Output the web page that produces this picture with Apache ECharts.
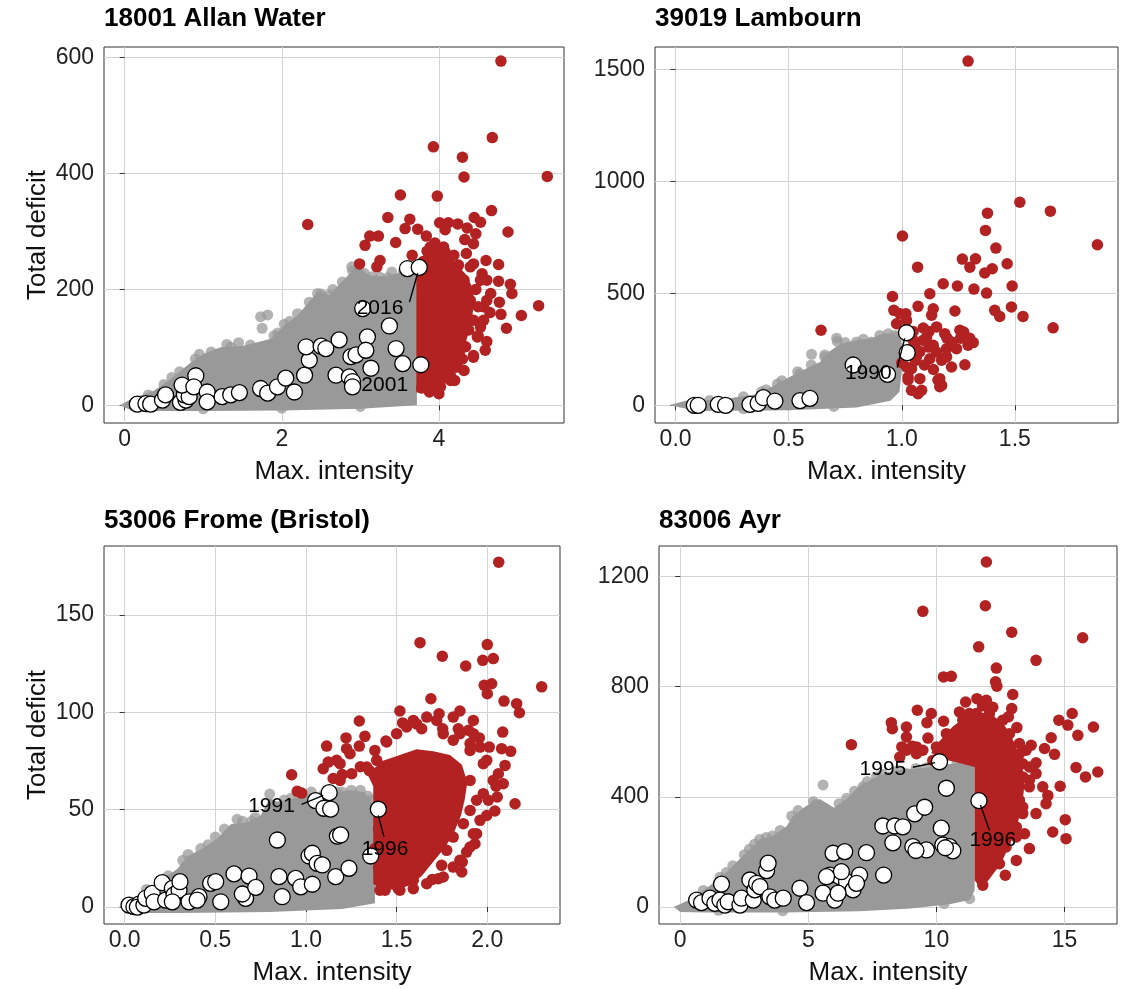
<!DOCTYPE html>
<html><head><meta charset="utf-8">
<script src="https://cdn.jsdelivr.net/npm/echarts@6/dist/echarts.min.js"></script>
<style>html,body{margin:0;padding:0;background:#fff}#c{width:1129px;height:989px}</style>
</head><body><div id="c"></div>
<script>
// ---------------- DATA ----------------
const panelTitles = ['18001 Allan Water', '39019 Lambourn', '53006 Frome (Bristol)', '83006 Ayr'];
const xTickValues = [[0, 2, 4], [0, 0.5, 1, 1.5], [0, 0.5, 1, 1.5, 2], [0, 5, 10, 15]];
const yTickValues = [[0, 200, 400, 600], [0, 500, 1000, 1500], [0, 50, 100, 150], [0, 400, 800, 1200]];
const xTickDecimals = [0, 1, 1, 0];
const xRanges = [[-0.264, 5.593], [-0.091, 1.956], [-0.114, 2.401], [-0.83, 17.05]];
const yRanges = [[-30.5, 618.3], [-79, 1600], [-8.7, 185.3], [-61.7, 1310]];
const yTitleShown = [true, false, true, false];

// dense grey cloud outline (all events), per panel
const p1GreyCloud = [[-0.06,0],[0.1,12],[0.37,25],[0.59,46],[0.84,74],[1.01,89],[1.22,100],[1.52,103],[1.86,115],[2.03,138],[2.2,155],[2.45,195],[2.6,190],[2.8,218],[2.95,240],[3.1,225],[3.3,222],[3.47,228],[3.64,240],[3.72,246],[3.72,0],[3.0,-6],[2.0,-9],[1.0,-10],[0.1,-10]];
const p2GreyCloud = [[-0.03,0],[0.05,22],[0.2,26],[0.35,48],[0.43,85],[0.51,130],[0.57,160],[0.64,195],[0.68,240],[0.73,275],[0.8,290],[0.87,300],[0.9,315],[0.94,322],[0.99,308],[1.0,280],[1.0,150],[0.99,60],[0.95,20],[0.8,-10],[0.5,-22],[0.1,-25]];
const p3GreyCloud = [[-0.03,0],[0.07,5.5],[0.18,12.5],[0.29,19.5],[0.345,26],[0.42,29.5],[0.51,35],[0.585,42.5],[0.68,43.5],[0.75,47],[0.8,56],[0.84,54],[0.92,55.5],[1.03,58.5],[1.17,59],[1.25,60],[1.32,59],[1.36,55],[1.385,46],[1.38,2],[1.2,-1],[0.8,-2.5],[0.3,-3],[0.05,-3]];
const p4GreyCloud = [[-0.25,0],[0.5,33],[1.3,88],[1.8,124],[2.3,172],[2.7,208],[3.1,245],[3.6,258],[4.15,293],[4.4,330],[4.9,366],[5.45,392],[6.0,360],[6.5,392],[7.0,440],[7.6,470],[8.1,490],[8.8,500],[9.6,505],[10.4,517],[11.0,525],[11.49,530],[11.49,60],[11.3,25],[10.5,10],[9.0,-5],[7.0,-15],[4.0,-20],[1.0,-20],[0,-18]];

// separate grey points at the cloud fringe
const p1GreyPts = [[1.73,153],[1.82,156],[1.75,133],[2.03,140],[2.455,193],[2.52,187],[2.77,213],[2.86,211],[2.89,239],[2.79,204],[3.25,221],[3.47,216],[3.64,239],[1.3,105],[1.45,108],[0.95,88],[0.6,48],[2.2,158],[3.05,228],[3.4,230],[1.9,120],[2.6,190],[3.0,226],
  [0.3,18],[0.5,36],[0.7,58],[0.9,80],[1.1,92],[1.35,100],[1.6,104],[1.95,125],[2.1,145],[2.35,178],[2.5,192],[2.65,200],[2.9,232],[3.15,222],[3.35,220],[3.55,232],[1.0,-6],[2.0,-5],[3.0,-2]];
const p2GreyPts = [[0.601,228],[0.712,300],[0.715,285],[0.80,283],[0.866,283],[0.903,312],[0.94,320],[0.55,140],[0.66,215],[0.45,95],[0.38,60],[0.98,305],
  [0.15,22],[0.3,38],[0.4,70],[0.47,110],[0.54,150],[0.6,180],[0.66,225],[0.75,280],[0.83,295],[0.97,312],[0.3,-15],[0.7,-5]];
const p3GreyPts = [[0.80,58],[0.7,44],[0.62,45],[0.5,36],[0.42,30],[0.92,56],[1.03,59],[1.17,59],[1.25,60],[1.30,60],[1.36,55],[0.35,27],[1.1,58],
  [0.12,9],[0.24,16],[0.32,24],[0.46,32],[0.55,40],[0.65,44],[0.72,46],[0.88,55],[0.98,57],[1.2,59],[1.34,57]];
const p4GreyPts = [[5.575,443],[5.3,372],[4.35,330],[7.13,436],[7.66,472],[8.83,484],[10.12,502],[11.29,520],[2.7,210],[3.1,245],[3.6,258],[6.5,395],[9.6,505],[1.8,125],[11.3,30],[10.3,12],
  [0.9,60],[1.55,108],[2.05,150],[2.5,190],[2.9,228],[3.35,252],[3.9,278],[4.6,350],[5.2,382],[6.2,375],[6.8,420],[7.3,455],[7.9,482],[8.5,495],[9.2,503],[10.0,510],[10.8,520],[1.5,-12],[4.0,-14]];

// dense red core outline (extreme events)
const p1RedCore = [[3.713,245],[3.85,262],[4.02,264],[4.15,255],[4.25,240],[4.35,225],[4.42,205],[4.45,181],[4.43,158],[4.40,135],[4.35,112],[4.33,89],[4.25,66],[4.17,45],[4.05,35],[3.95,27],[3.85,22],[3.713,22]];
const p2RedCore = [];
const p3RedCore = [[1.371,12],[1.371,62],[1.34,68],[1.42,75],[1.518,78],[1.61,81],[1.702,80],[1.794,78],[1.86,73],[1.89,64],[1.875,55],[1.855,47],[1.82,39],[1.77,31],[1.70,23],[1.64,16],[1.57,11],[1.50,9],[1.41,9]];
const p4RedCore = [[11.49,508],[11.49,97],[11.75,65],[12.1,105],[12.5,155],[12.8,212],[13.1,278],[13.3,351],[13.4,411],[13.45,460],[13.35,508],[13.2,544],[13.05,593],[12.85,635],[12.55,670],[12.2,695],[11.8,705],[11.4,695],[11.0,680],[10.64,655],[10.3,620],[10.0,590],[9.8,560],[10.1,540],[10.78,525]];

// red points (extreme events)
const p1Red = [[4.79,594],[4.68,462],[3.93,446],[4.30,428],[4.32,394],[5.38,395],[3.51,363],[3.98,361],[4.67,336],[3.35,324],[3.63,321],[3.57,305],[3.73,304],[3.84,292],[4.88,299],[3.12,292],[3.23,292],[3.06,276],[3.45,281],[4.01,315],[4.12,315],[4.24,313],[4.36,306],[4.45,324],[4.53,316],[4.08,303],[4.33,286],[4.44,279],[4.47,296],[3.66,259],[3.85,266],[2.99,244],[3.25,250],[3.21,239],[4.76,243],[4.93,193],[5.27,172],[5.05,155],[4.79,157],[4.86,133],[4.77,178],[4.76,214],[4.61,110],[4.59,95],[4.44,86],[4.20,43],[3.88,23],[4.91,209],[3.98,264],[4.08,264],[4.25,242],[4.44,244],[4.55,227],[4.61,216],[4.66,193],[4.57,170],[4.44,147],[4.53,135],[4.34,101],[4.23,66],[4.06,55],[3.89,43],[4.40,181],[4.32,216],[4.10,216],[3.98,227],[2.33,312],[3.80,248],[3.9,252],[4.6,250],[4.65,160],[4.5,120],[4.3,80],[4.15,50],[3.95,35],[4.0,20],
  [4.40,239],[4.53,216],[4.61,181],[4.57,147],[4.49,118],[4.44,83],[4.32,60],[4.15,43],[4.02,32],[3.89,273],[4.06,273],[4.19,259],[4.35,262],[4.47,200],[4.38,130],[4.5,170],[3.78,30],[3.95,280]];
const p2Red = [[1.293,1537],[1.522,907],[1.657,867],[1.379,858],[1.370,781],[1.003,756],[1.865,717],[1.416,702],[1.268,653],[1.326,654],[1.301,617],[1.466,632],[1.070,617],[1.40,610],[1.367,591],[1.183,543],[1.246,533],[1.319,519],[1.488,533],[1.375,501],[1.124,498],[0.959,486],[1.072,442],[1.139,431],[1.235,421],[1.411,424],[1.485,439],[1.433,397],[1.536,397],[1.669,346],[0.965,424],[1.018,409],[1.132,402],[0.643,335],[0.977,364],[1.095,345],[1.154,350],[1.19,320],[1.257,335],[1.274,327],[1.316,280],[1.293,268],[1.242,253],[1.198,253],[1.139,268],[1.095,290],[1.058,260],[1.065,216],[1.124,208],[1.176,201],[1.22,171],[1.279,181],[1.043,163],[1.028,126],[1.08,119],[1.168,119],[1.176,89],[1.043,67],[1.088,67],[1.072,52],[1.018,223],[1.05,290],[1.11,305],[1.154,238],[1.198,216],[1.021,171],[1.22,283],[1.021,379],[0.992,409],[1.028,113],[1.16,113],[1.168,83],[1.04,250],[1.08,240],[1.12,260],[1.06,200],[1.1,180],[1.14,160],[1.0,190],[1.05,330],[1.12,330],[1.2,300],[1.26,300],[1.3,300]];
const p3Red = [[2.063,177],[1.629,135.7],[2.0,134.7],[1.752,128.7],[1.881,123.7],[1.975,126.6],[2.033,127.5],[2.30,113],[1.983,113.8],[2.024,114.6],[2.0,109.5],[2.092,105.7],[2.162,104.4],[2.177,99.7],[1.689,106.9],[1.518,100.6],[1.533,94.5],[1.294,95.5],[1.849,100.6],[1.812,97.5],[1.734,99.2],[1.61,94],[1.754,91.5],[1.84,91.5],[1.897,90.7],[2.085,89.8],[1.956,86.8],[2.011,82.1],[2.079,81.3],[2.129,79.9],[2.098,72.7],[2.061,68.4],[2.088,63.3],[2.048,62],[2.055,56.5],[2.153,53],[2.042,49.3],[1.997,47],[1.941,37.6],[1.932,32.5],[1.886,28.2],[1.862,23.1],[1.859,18],[1.748,21.4],[1.73,14.5],[1.697,14.2],[1.592,9.4],[1.509,9.4],[1.436,8.6],[1.445,13.7],[1.114,82.6],[1.221,86.8],[1.325,87.6],[1.441,85.2],[1.224,81.3],[1.294,82.6],[1.38,80.4],[1.095,71],[1.123,74.4],[1.169,75.3],[0.921,67.9],[0.952,59.4],[0.976,58.5],[1.188,65],[1.252,68.4],[1.923,95.8],[1.905,80.4],[1.978,73.6],[1.905,65],[1.941,54.8],[1.978,58.2],[1.905,49.6],[1.868,42.8],[1.812,35.9],[1.776,29.1],[1.666,24],[1.35,70],[1.30,72],[1.20,68],[1.15,66],[1.4,20],[1.38,30],[1.40,40],[1.45,60],
  [1.445,84.7],[1.50,89],[1.555,92.4],[1.592,95.8],[1.638,91.5],[1.666,97.5],[1.721,95.8],[1.757,89],[1.812,85.6],[1.849,89],[1.905,83.9],[1.923,89],[1.96,82.1],[1.997,75.3],[2.033,65],[2.006,54.8],[1.96,44.5],[1.923,37.6],[1.905,30.8],[1.849,24],[1.812,20.5],[1.757,15.4],[1.666,12],[1.592,13.7],[1.518,8.6],[1.482,13.7],[1.408,8.6],[1.188,73.6],[1.243,78.7],[1.335,71.9],[1.39,75.3]];
const p4Red = [[11.95,1252],[11.91,1093],[9.47,1073],[12.94,997],[15.71,977],[11.65,944],[13.89,895],[12.34,867],[10.28,835],[10.58,837],[12.31,817],[12.36,801],[12.98,771],[11.58,756],[11.95,750],[11.14,744],[12.94,720],[15.3,702],[9.255,714],[9.80,702],[10.90,708],[11.29,702],[12.81,690],[14.78,678],[15.13,660],[16.13,653],[8.24,669],[9.63,669],[10.28,674],[13.14,651],[12.40,639],[8.28,647],[8.83,653],[14.48,614],[15.52,623],[8.83,617],[9.67,613],[13.70,587],[14.22,575],[14.61,554],[6.68,589],[8.65,581],[9.06,583],[15.45,506],[15.82,472],[16.30,490],[14.83,438],[13.89,523],[14.35,405],[15.03,317],[14.54,272],[15.06,248],[13.63,212],[13.12,169],[12.69,115],[11.81,79],[12.05,230],[13.44,266],[13.89,339],[14.28,375],[14.15,436],[13.89,484],[13.50,569],[13.24,593],[12.85,629],[12.07,665],[11.03,678],[10.39,629],[10.0,581],[9.47,569],[9.22,556],[11.56,702],[12.07,556],[12.59,532],[13.37,520],[13.63,460],[13.24,387],[13.37,339],[13.12,290],[12.72,218],[12.46,157],
  [13.12,254],[13.37,363],[13.63,436],[13.37,472],[13.63,508],[13.24,556],[12.72,605],[12.07,629],[11.56,653],[11.03,629],[10.51,593],[10.12,556],[9.22,581],[8.83,569],[8.57,544],[9.86,532],[10.77,581],[11.29,569],[12.33,581],[12.59,678],[12.07,702],[11.8,730],[12.2,725]];

// white circles (highlighted events)
const p1Events = [[0.16,2],[0.27,3],[0.33,2],[0.48,9],[0.52,18],[0.71,5],[0.78,9],[0.76,18],[0.82,15],[0.73,35],[0.905,51],[0.88,32],[1.05,23],[1.05,6],[1.24,15],[1.35,18],[1.46,22],[1.73,29],[1.82,21],[1.945,32],[2.05,47],[2.16,23],[2.29,52],[2.35,78],[2.31,101],[2.50,102],[2.56,98],[2.73,113],[2.69,52],[2.88,84],[2.945,87],[2.86,49],[2.90,41],[2.90,32],[3.09,118],[3.07,95],[3.135,64],[3.37,137],[3.455,98],[3.54,72],[3.77,70],[3.60,236],[3.75,238],[3.03,167]];
const p2Events = [[0.083,0],[0.10,0],[0.189,4],[0.221,0],[0.329,4],[0.365,9],[0.388,34],[0.439,19],[0.55,21],[0.594,31],[0.785,180],[0.937,138],[1.024,235],[1.021,324]];
const p3Events = [[0.024,1],[0.051,0.2],[0.079,1.5],[0.07,0],[0.106,1],[0.116,4.5],[0.152,7],[0.162,2.7],[0.207,12.5],[0.226,3.6],[0.263,9.6],[0.272,6.2],[0.30,8.7],[0.263,2.7],[0.305,13],[0.355,2.7],[0.41,5.3],[0.40,3.6],[0.474,12.2],[0.502,13],[0.53,2.7],[0.603,17],[0.686,15.9],[0.667,4.5],[0.649,6.7],[0.723,10.1],[0.842,34.4],[0.851,15.6],[0.869,5.3],[0.943,14.7],[0.971,10.4],[1.035,11.7],[1.017,26.2],[1.035,27.6],[1.062,22.4],[1.09,21.6],[1.164,15.6],[1.237,19.9],[1.173,36.4],[1.191,37],[1.357,26.2],[1.399,50.2],[1.053,54.6],[1.099,50.7],[1.136,50.3],[1.128,58.7]];
const p4Events = [[0.64,25],[0.83,16],[1.16,32],[1.35,13],[1.55,25],[1.61,83],[1.74,7],[1.87,19],[2.33,7],[2.39,32],[2.85,25],[2.72,98],[2.91,62],[2.98,86],[3.11,74],[3.37,132],[3.43,159],[3.50,37],[3.69,25],[4.02,32],[4.67,68],[4.93,16],[5.575,50],[5.84,116],[6.03,25],[5.965,195],[6.42,201],[6.23,110],[6.49,92],[6.745,62],[7.0,116],[7.27,197],[6.29,128],[7.94,116],[8.30,233],[7.91,294],[8.37,294],[8.69,291],[9.15,338],[9.54,362],[9.08,219],[9.61,207],[10.19,286],[10.39,431],[10.25,225],[10.51,219],[10.64,204],[10.12,527],[11.66,386],[5.71,110],[6.88,86],[6.16,50],[9.2,205],[10.35,215]];

// year labels: [text, labelX, labelY, segment from (x1,y1) to (x2,y2)]
const p1Labels = [['2016', 3.25, 167, 3.73, 228, 3.625, 178], ['2001', 3.31, 34]];
const p2Labels = [['1990', 0.852, 143, 1.013, 299, 0.98, 168]];
const p3Labels = [['1991', 0.81, 51.7, 0.976, 52.7, 1.095, 57.3], ['1996', 1.436, 29.6, 1.399, 47, 1.43, 36]];
const p4Labels = [['1995', 7.91, 500, 9.08, 507, 9.95, 524], ['1996', 12.2, 242, 11.72, 370, 12.07, 278]];

// ---------------- CHART ----------------
const FONT = '"Liberation Sans", Arial, Helvetica, sans-serif';
const greyClouds = [p1GreyCloud, p2GreyCloud, p3GreyCloud, p4GreyCloud];
const greyPts = [p1GreyPts, p2GreyPts, p3GreyPts, p4GreyPts];
const redCores = [p1RedCore, p2RedCore, p3RedCore, p4RedCore];
const reds = [p1Red, p2Red, p3Red, p4Red];
const events = [p1Events, p2Events, p3Events, p4Events];
const labels = [p1Labels, p2Labels, p3Labels, p4Labels];

const gridBoxes = [
  {left: 104, top: 47, width: 460, height: 376},
  {left: 655, top: 47, width: 463, height: 376},
  {left: 104, top: 546, width: 456, height: 378},
  {left: 659, top: 546, width: 458, height: 378}
];
const titlePos = [[104, 6], [655, 6], [104, 508], [659, 508]];

const GREY = '#999999', RED = '#B22222';

function polygonSeries(i, verts, color, z) {
  return {
    type: 'custom', xAxisIndex: i, yAxisIndex: i, z: z, silent: true, clip: true,
    data: verts.length ? [0] : [],
    renderItem: function (params, api) {
      return {type: 'polygon', shape: {points: verts.map(function (v) { return api.coord(v); })}, style: {fill: color}};
    }
  };
}
function labelSeries(i, labs) {
  return {
    type: 'custom', xAxisIndex: i, yAxisIndex: i, z: 10, silent: true, clip: false,
    data: labs.map(function (l, k) { return k; }),
    renderItem: function (params, api) {
      const l = labs[params.dataIndex];
      const c = api.coord([l[1], l[2]]);
      const children = [];
      if (l.length > 3) {
        const a = api.coord([l[3], l[4]]), b = api.coord([l[5], l[6]]);
        children.push({type: 'line', shape: {x1: a[0], y1: a[1], x2: b[0], y2: b[1]}, style: {stroke: '#000', lineWidth: 1.4}});
      }
      children.push({type: 'text', x: c[0], y: c[1], style: {text: l[0], fill: '#000', font: '21px ' + FONT, align: 'center', verticalAlign: 'middle'}});
      return {type: 'group', children: children};
    }
  };
}

const option = {
  animation: false,
  backgroundColor: '#ffffff',
  title: panelTitles.map(function (t, i) {
    return {text: t, left: titlePos[i][0], top: titlePos[i][1], padding: 0,
      textStyle: {fontSize: 26, fontWeight: 'bold', color: '#000', fontFamily: FONT}};
  }),
  grid: gridBoxes.map(function (g) {
    return Object.assign({show: true, borderColor: '#333', borderWidth: 1, backgroundColor: 'transparent', containLabel: false}, g);
  }),
  xAxis: gridBoxes.map(function (g, i) {
    return {
      type: 'value', gridIndex: i, min: xRanges[i][0], max: xRanges[i][1],
      name: 'Max. intensity', nameLocation: 'middle', nameGap: 36,
      nameTextStyle: {fontSize: 26, color: '#111', fontFamily: FONT},
      axisLine: {show: false},
      axisTick: {show: true, length: 5, inside: false, lineStyle: {color: '#333', width: 1}, customValues: xTickValues[i]},
      axisLabel: {customValues: xTickValues[i], fontSize: 23, color: '#222', margin: 5, fontFamily: FONT,
        formatter: function (v) { return Number(v).toFixed(xTickDecimals[i]); }},
      splitLine: {show: true, lineStyle: {color: '#d3d3d3', width: 1}}
    };
  }),
  yAxis: gridBoxes.map(function (g, i) {
    return {
      type: 'value', gridIndex: i, min: yRanges[i][0], max: yRanges[i][1],
      name: yTitleShown[i] ? 'Total deficit' : '', nameLocation: 'middle', nameGap: 53,
      nameTextStyle: {fontSize: 26, color: '#111', fontFamily: FONT},
      axisLine: {show: false},
      axisTick: {show: true, length: 5, inside: false, lineStyle: {color: '#333', width: 1}, customValues: yTickValues[i]},
      axisLabel: {customValues: yTickValues[i], fontSize: 23, color: '#222', margin: 10, fontFamily: FONT,
        formatter: function (v) { return String(v); }},
      splitLine: {show: true, lineStyle: {color: '#d3d3d3', width: 1}}
    };
  }),
  series: []
};

for (let i = 0; i < 4; i++) {
  option.series.push(polygonSeries(i, greyClouds[i], GREY, 1));
  option.series.push({type: 'scatter', xAxisIndex: i, yAxisIndex: i, z: 2, silent: true,
    symbol: 'circle', symbolSize: 11, data: greyPts[i], itemStyle: {color: GREY, opacity: 0.75}});
  option.series.push(polygonSeries(i, redCores[i], RED, 3));
  option.series.push({type: 'scatter', xAxisIndex: i, yAxisIndex: i, z: 4, silent: true,
    symbol: 'circle', symbolSize: 11.5, data: reds[i], itemStyle: {color: RED, opacity: 1}});
  option.series.push({type: 'scatter', xAxisIndex: i, yAxisIndex: i, z: 5, silent: true,
    symbol: 'circle', symbolSize: 16, data: events[i], itemStyle: {color: '#fff', borderColor: '#000', borderWidth: 1.3, opacity: 1}});
  option.series.push(labelSeries(i, labels[i]));
}

const chart = echarts.init(document.getElementById('c'), null, {renderer: 'canvas'});
chart.setOption(option);
</script>
</body></html>
